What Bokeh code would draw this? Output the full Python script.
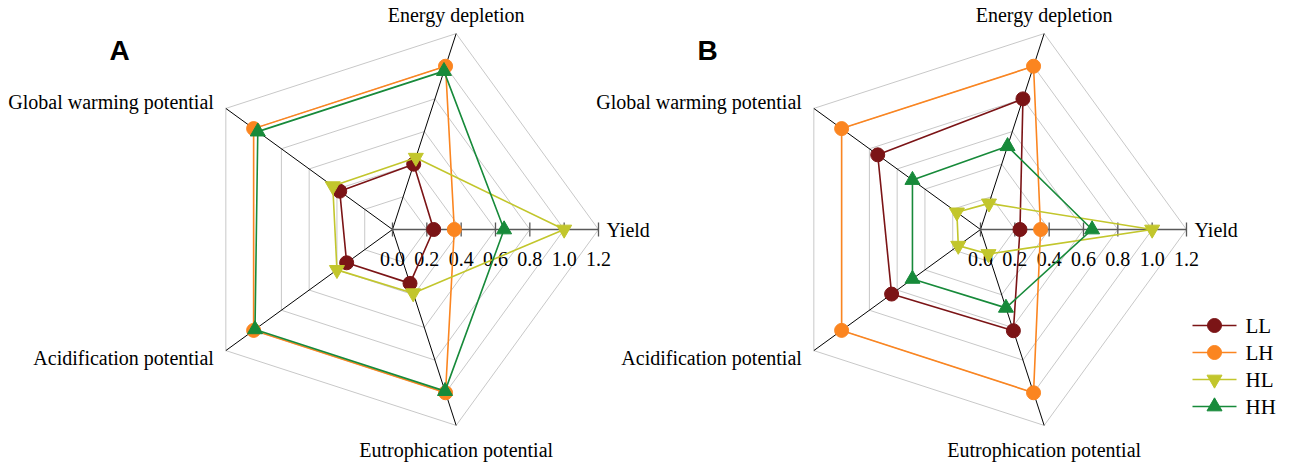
import numpy as np
from bokeh.plotting import figure
from bokeh.models import Range1d
from bokeh.core.properties import value
from bokeh.embed import file_html
from bokeh.resources import INLINE

# ---------------- data ----------------
axes_names = ["Yield", "Energy depletion", "Global warming potential",
              "Acidification potential", "Eutrophication potential"]
tick_values = [0.0, 0.2, 0.4, 0.6, 0.8, 1.0, 1.2]
tick_labels = ["0.0", "0.2", "0.4", "0.6", "0.8", "1.0", "1.2"]
series_names = ["LL", "LH", "HL", "HH"]

A_LL = [0.24, 0.40, 0.38, 0.33, 0.33]
A_LH = [0.36, 1.00, 1.00, 1.00, 1.00]
A_HL = [1.00, 0.44, 0.43, 0.40, 0.39]
A_HH = [0.65, 0.97, 0.97, 0.99, 0.99]

B_LL = [0.23, 0.80, 0.74, 0.64, 0.62]
B_LH = [0.35, 1.00, 1.00, 1.00, 1.00]
B_HL = [1.00, 0.16, 0.17, 0.16, 0.15]
B_HH = [0.65, 0.51, 0.49, 0.49, 0.48]

# ---------------- styles ----------------
colors = {"LL": "#7b1416", "LH": "#fb8520", "HL": "#c2c62c", "HH": "#178a3a"}
markers = {"LL": "circle", "LH": "circle", "HL": "inverted_triangle", "HH": "triangle"}
FONT = "Liberation Serif"

W, H = 1283, 462
p = figure(width=W, height=H, output_backend="svg", toolbar_location=None,
           x_range=Range1d(0, W), y_range=Range1d(H, 0),
           min_border=0, outline_line_color=None)
p.axis.visible = False
p.grid.visible = False

SCALE = 206 / 1.2  # px per unit
angles = np.deg2rad([0, 72, 144, 216, 288])


def pt(cx, cy, r, k):
    return cx + r * SCALE * np.cos(angles[k]), cy - r * SCALE * np.sin(angles[k])


def radar(cx, cy, data, panel_label):
    # grid pentagons
    for g in tick_values[1:]:
        xs = [pt(cx, cy, g, k)[0] for k in range(5)] + [pt(cx, cy, g, 0)[0]]
        ys = [pt(cx, cy, g, k)[1] for k in range(5)] + [pt(cx, cy, g, 0)[1]]
        p.line(xs, ys, line_color="#c8c8c8", line_width=1)
    # spokes
    for k in range(1, 5):
        x1, y1 = pt(cx, cy, tick_values[-1], k)
        p.line([cx, x1], [cy, y1], line_color="#000000", line_width=1)
    # yield axis with ticks
    x1, y1 = pt(cx, cy, tick_values[-1], 0)
    p.line([cx, x1], [cy, y1], line_color="#595959", line_width=1.5)
    tx = [pt(cx, cy, t, 0)[0] for t in tick_values]
    p.segment(x0=tx, y0=[cy - 7] * len(tx), x1=tx, y1=[cy + 7] * len(tx),
              line_color="#595959", line_width=1.3)
    p.text(x=tx, y=[cy + 29] * len(tx), text=tick_labels,
           text_font=value(FONT), text_font_size="20px", text_color="#000000",
           text_align="center", text_baseline="middle")
    # axis labels
    lab_pos = [
        (x1 + 8, cy, "left"),
        (pt(cx, cy, 1.2, 1)[0], 14, "center"),
        (pt(cx, cy, 1.2, 2)[0] - 12, 101, "right"),
        (pt(cx, cy, 1.2, 3)[0] - 12, 357, "right"),
        (pt(cx, cy, 1.2, 4)[0], 449, "center"),
    ]
    for (lx, ly, al), name in zip(lab_pos, axes_names):
        p.text(x=[lx], y=[ly], text=[name], text_font=value(FONT),
               text_font_size="20px", text_color="#000000",
               text_align=al, text_baseline="middle")
    # panel letter
    p.text(x=[cx - 273], y=[50], text=[panel_label], text_font=value("Liberation Sans"),
           text_font_style="bold", text_font_size="28px", text_color="#000000",
           text_align="center", text_baseline="middle")
    # series
    for name in series_names:
        vals = data[name]
        xs = [pt(cx, cy, v, k)[0] for k, v in enumerate(vals)]
        ys = [pt(cx, cy, v, k)[1] for k, v in enumerate(vals)]
        p.line(xs + [xs[0]], ys + [ys[0]], line_color=colors[name], line_width=1.6)
        sz = 14 if markers[name] == "circle" else 15
        p.scatter(xs, ys, marker=markers[name], size=sz,
                  fill_color=colors[name], line_color=colors[name])


radar(392, 229, {"LL": A_LL, "LH": A_LH, "HL": A_HL, "HH": A_HH}, "A")
radar(980, 229, {"LL": B_LL, "LH": B_LH, "HL": B_HL, "HH": B_HH}, "B")

# legend (manual)
ly0, dy = 325, 27
for i, name in enumerate(series_names):
    yy = ly0 + i * dy
    p.line([1192, 1236], [yy, yy], line_color=colors[name], line_width=1.6)
    sz = 14 if markers[name] == "circle" else 15
    p.scatter([1214], [yy], marker=markers[name], size=sz,
              fill_color=colors[name], line_color=colors[name])
    p.text(x=[1245], y=[yy], text=[name], text_font=value(FONT),
           text_font_size="21px", text_color="#000000",
           text_align="left", text_baseline="middle")

open("out.html", "w").write(file_html(p, INLINE))
